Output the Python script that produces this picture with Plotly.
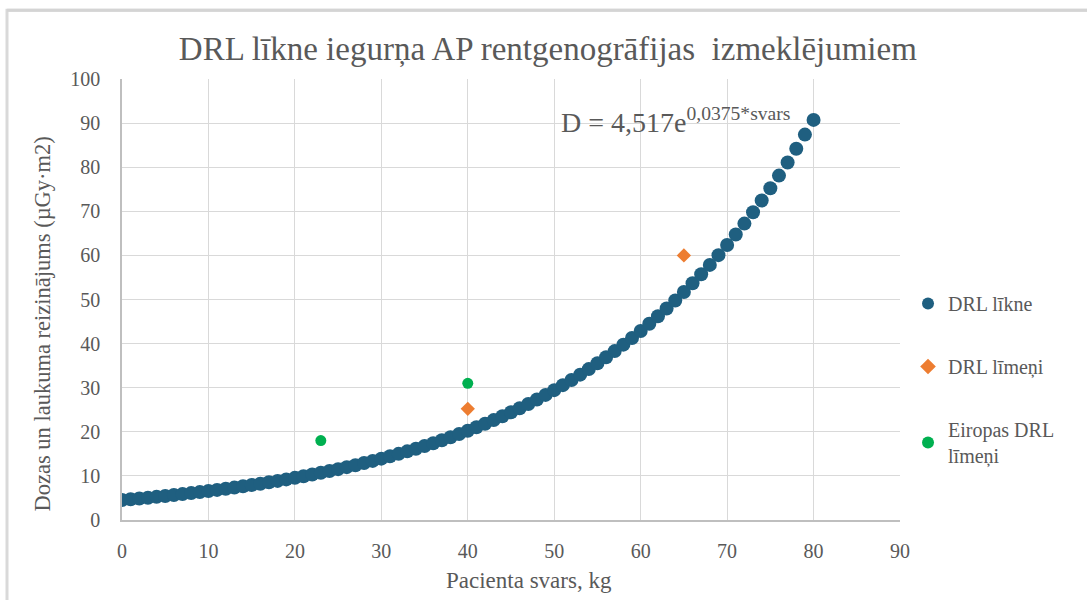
import plotly.graph_objects as go

weights = list(range(0, 81))
drl_curve = [4.52, 4.69, 4.87, 5.05, 5.25, 5.45, 5.66, 5.87, 6.10, 6.33,
             6.57, 6.82, 7.08, 7.35, 7.64, 7.93, 8.23, 8.55, 8.87, 9.21,
             9.56, 9.93, 10.31, 10.70, 11.11, 11.53, 11.98, 12.43, 12.91, 13.40,
             13.91, 14.44, 15.00, 15.57, 16.16, 16.78, 17.42, 18.09, 18.78, 19.50,
             20.24, 21.02, 21.82, 22.65, 23.52, 24.42, 25.35, 26.32, 27.33, 28.37,
             29.45, 30.58, 31.75, 32.96, 34.22, 35.53, 36.89, 38.30, 39.76, 41.28,
             42.86, 44.49, 46.19, 47.96, 49.79, 51.69, 53.67, 55.72, 57.85, 60.06,
             62.36, 64.74, 67.21, 69.78, 72.45, 75.21, 78.09, 81.07, 84.17, 87.39,
             90.73]
drl_level_x = [40, 65]
drl_level_y = [25.2, 60]
eu_level_x = [23, 40]
eu_level_y = [18, 31]

x_ticks = list(range(0, 91, 10))
y_ticks = list(range(0, 101, 10))

font_family = "Liberation Serif"
grey = "#595959"

fig = go.Figure()
fig.add_trace(go.Scatter(
    x=weights, y=drl_curve, mode="markers", name="DRL līkne", legendgroup="a",
    marker=dict(symbol="circle", size=14, color="#1F5F80"),
))
fig.add_trace(go.Scatter(
    x=drl_level_x, y=drl_level_y, mode="markers", name="DRL līmeņi", legendgroup="b",
    marker=dict(symbol="diamond", size=11, color="#ED7D31"),
))
fig.add_trace(go.Scatter(
    x=eu_level_x, y=eu_level_y, mode="markers", name="Eiropas DRL<br>līmeņi", legendgroup="c",
    marker=dict(symbol="circle", size=11, color="#00B050"),
))

fig.update_layout(
    width=1087, height=600,
    paper_bgcolor="white", plot_bgcolor="white",
    margin=dict(l=122, r=187, t=79, b=80),
    font=dict(family=font_family, color=grey, size=20),
    title=dict(text="DRL līkne iegurņa AP rentgenogrāfijas  izmeklējumiem",
               x=0.504, xanchor="center", y=0.92, yanchor="middle",
               font=dict(size=33, color=grey, family=font_family)),
    showlegend=True,
    legend=dict(x=1.0103, xanchor="left", y=0.535, yanchor="top",
                font=dict(size=20, color=grey, family=font_family),
                tracegroupgap=34, itemsizing="constant",
                bgcolor="rgba(0,0,0,0)"),
    annotations=[
        dict(x=80, y=91, xref="x", yref="y", xanchor="right", yanchor="middle",
             xshift=-22, yshift=-2,
             text="D = 4,517e<sup>0,0375*svars</sup>", showarrow=False,
             font=dict(size=28, color=grey, family=font_family)),
        dict(x=0.5 + 18 / 778, y=-60 / 441, xref="paper", yref="paper",
             xanchor="center", yanchor="middle", showarrow=False,
             text="Pacienta svars, kg",
             font=dict(size=23, color=grey, family=font_family)),
        dict(x=-80 / 778, y=0.5 - 25 / 441, xref="paper", yref="paper",
             xanchor="center", yanchor="middle", showarrow=False, textangle=-90,
             text="Dozas un laukuma reizinājums (µGy·m2)",
             font=dict(size=22.5, color=grey, family=font_family)),
    ],
)
fig.update_xaxes(
    range=[0, 90], tickvals=x_ticks, showgrid=True, gridcolor="#D9D9D9", gridwidth=1.3,
    showline=True, linecolor="#BFBFBF", linewidth=1.5, zeroline=False,
    ticks="", ticklabelstandoff=12,
    tickfont=dict(size=20, color=grey, family=font_family),
)
fig.update_yaxes(
    range=[0, 100], tickvals=y_ticks, showgrid=True, gridcolor="#D9D9D9", gridwidth=1.3,
    showline=True, linecolor="#BFBFBF", linewidth=1.5, zeroline=False,
    ticks="", ticklabelstandoff=16,
    tickfont=dict(size=20, color=grey, family=font_family),
)
# light outer frame (only top and left edges fall inside the picture)
fig.add_shape(type="rect", xref="paper", yref="paper",
              x0=-0.1478, x1=1.4, y0=-0.3, y1=1.156,
              line=dict(color="#D9D9D9", width=3), layer="below")
fig.add_shape(type="line", xref="paper", yref="paper",
              x0=-0.1478, x1=1.25, y0=1.156, y1=1.156,
              line=dict(color="#D4D4D4", width=3), layer="above")

fig.write_html("out.html", config={"displayModeBar": False},
               post_script="document.body.style.margin='0px';")
